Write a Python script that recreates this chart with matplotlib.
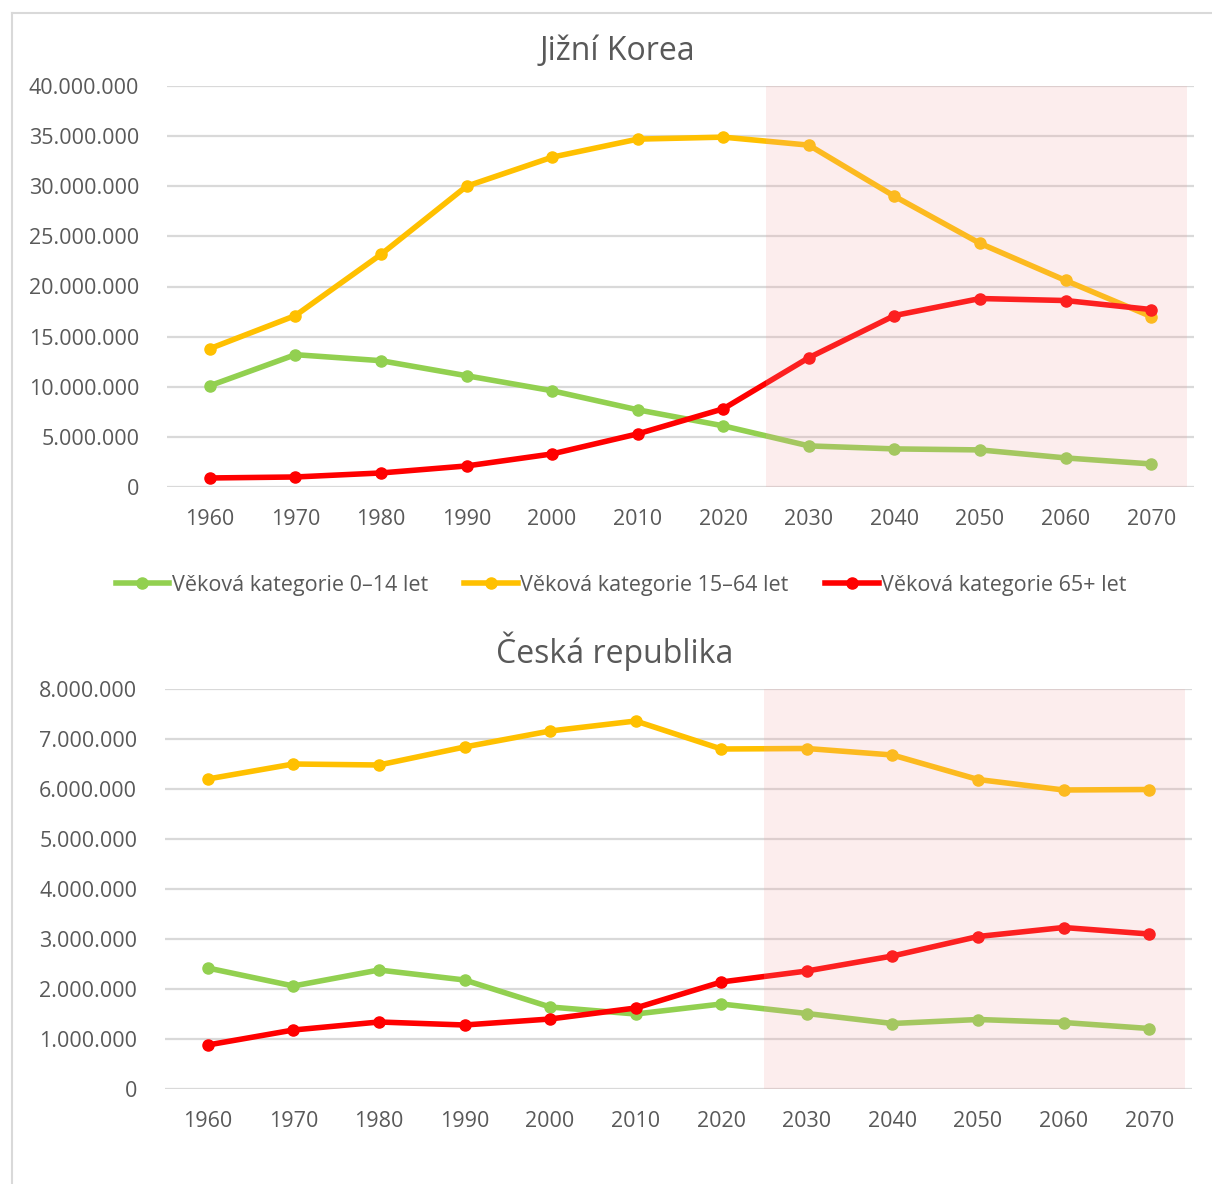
import matplotlib
matplotlib.use("Agg")
import matplotlib.pyplot as plt
from matplotlib.lines import Line2D
from matplotlib.ticker import FuncFormatter

plt.rcParams['font.family'] = ['Open Sans', 'DejaVu Sans']

years = [1960, 1970, 1980, 1990, 2000, 2010, 2020, 2030, 2040, 2050, 2060, 2070]
labels = ["Věková kategorie 0–14 let", "Věková kategorie 15–64 let", "Věková kategorie 65+ let"]

# Jižní Korea
kr_0_14 = [10.1e6, 13.2e6, 12.6e6, 11.1e6, 9.6e6, 7.7e6, 6.1e6, 4.1e6, 3.8e6, 3.7e6, 2.9e6, 2.3e6]
kr_15_64 = [13.8e6, 17.1e6, 23.2e6, 30.0e6, 32.9e6, 34.7e6, 34.9e6, 34.1e6, 29.0e6, 24.3e6, 20.6e6, 17.0e6]
kr_65 = [0.9e6, 1.0e6, 1.4e6, 2.1e6, 3.3e6, 5.3e6, 7.8e6, 12.9e6, 17.1e6, 18.8e6, 18.6e6, 17.7e6]

# Česká republika
cz_0_14 = [2.42e6, 2.06e6, 2.38e6, 2.18e6, 1.64e6, 1.50e6, 1.70e6, 1.51e6, 1.31e6, 1.39e6, 1.33e6, 1.21e6]
cz_15_64 = [6.20e6, 6.50e6, 6.48e6, 6.84e6, 7.16e6, 7.36e6, 6.80e6, 6.81e6, 6.68e6, 6.19e6, 5.98e6, 5.99e6]
cz_65 = [0.88e6, 1.18e6, 1.34e6, 1.28e6, 1.40e6, 1.62e6, 2.14e6, 2.36e6, 2.66e6, 3.05e6, 3.23e6, 3.10e6]

colors = ["#92D050", "#FFC000", "#FF0000"]
text_col = "#595959"
grid_col = "#D9D9D9"

W, H = 1212, 1184
fig = plt.figure(figsize=(W / 100, H / 100), dpi=100)

# outer frame (top and left edges visible)
fig.add_artist(Line2D([12 / W, 12 / W], [0, 1 - 13 / H], color=grid_col, lw=1.5))
fig.add_artist(Line2D([12 / W, 1], [1 - 13 / H, 1 - 13 / H], color=grid_col, lw=1.5))


def thousands(v, pos):
    return f"{int(v):,}".replace(",", ".")


def draw(ax, series, ymax, step):
    x = list(range(len(years)))
    for vals, c in zip(series, colors):
        ax.plot(x, vals, color=c, lw=4, marker="o", ms=8, solid_capstyle="round", zorder=3)
    # shaded projection period
    ax.axvspan(6.5, 11.42, color="#F0A5A5", alpha=0.2, lw=0, zorder=4)
    ax.set_xlim(-0.5, len(years) - 0.5)
    ax.set_ylim(0, ymax)
    ax.set_yticks(range(0, int(ymax) + 1, int(step)))
    ax.yaxis.set_major_formatter(FuncFormatter(thousands))
    ax.set_xticks(x)
    ax.set_xticklabels([str(y) for y in years])
    ax.grid(axis="y", color=grid_col, lw=1.6, zorder=1)
    ax.set_axisbelow(True)
    for s in ax.spines.values():
        s.set_visible(False)
    ax.tick_params(length=0, labelsize=15.5, labelcolor=text_col)
    ax.tick_params(axis="x", pad=16)
    ax.tick_params(axis="y", pad=20)


ax1 = fig.add_axes([167 / W, 1 - 487 / H, 1027 / W, 401 / H])
draw(ax1, [kr_0_14, kr_15_64, kr_65], 40e6, 5e6)
fig.text(617 / W, 1 - 51 / H, "Jižní Korea", ha="center", va="center", fontsize=23, color=text_col)

ax2 = fig.add_axes([165 / W, 1 - 1089 / H, 1027 / W, 400 / H])
draw(ax2, [cz_0_14, cz_15_64, cz_65], 8e6, 1e6)
fig.text(615 / W, 1 - 651 / H, "Česká republika", ha="center", va="center", fontsize=23, color=text_col)

handles = [Line2D([], [], color=c, lw=4, marker="o", ms=8) for c in colors]
fig.legend(handles, labels, loc="center", bbox_to_anchor=(621 / W, 1 - 585 / H), ncol=3,
           frameon=False, fontsize=15.5, labelcolor=text_col, handlelength=2.5,
           handletextpad=0.1, columnspacing=1.7)

fig.savefig("out.png", dpi=100, facecolor="white")
